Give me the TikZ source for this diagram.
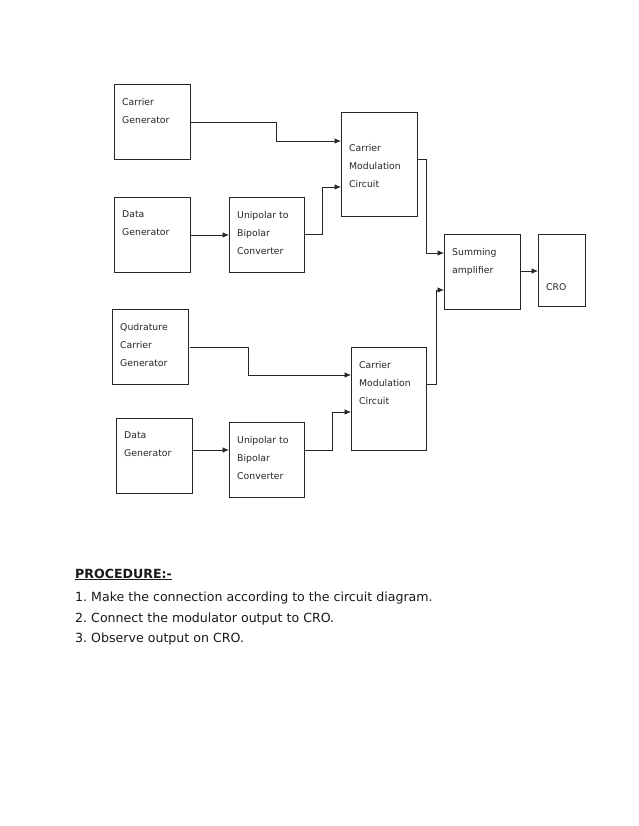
\documentclass[tikz,border=0pt]{standalone}
\usepackage{fontspec}
\setmainfont{DejaVu Sans}
\usetikzlibrary{arrows.meta}
\frenchspacing
\begin{document}
\begin{tikzpicture}[x=1pt,y=-1pt,
  box/.style={draw=black!85, line width=0.8pt, minimum width=#1, anchor=north west, inner sep=0pt, outer sep=0pt},
  lbl/.style={anchor=north west, inner sep=0pt, align=left, font=\fontsize{9.3}{18}\selectfont, text=black!85},
  wire/.style={draw=black!85, line width=0.8pt},
  arr/.style={wire, -{Latex[length=6.5pt,width=5.5pt]}},
  proc/.style={anchor=base west, inner sep=0pt, font=\fontsize{12.6}{16}\selectfont, text=black!90}]
\useasboundingbox[fill=white] (0,0) rectangle (638,826);

% boxes
\node[box=76, minimum height=75] (cg) at (114,84) {};
\node[box=76, minimum height=75] (dg1) at (114,197) {};
\node[box=75, minimum height=75] (uc1) at (229,197) {};
\node[box=76, minimum height=104] (cm1) at (341,112) {};
\node[box=76, minimum height=75] (sa) at (444,234) {};
\node[box=47, minimum height=72] (cro) at (538,234) {};
\node[box=76, minimum height=75] (qg) at (112,309) {};
\node[box=76, minimum height=75] (dg2) at (116,418) {};
\node[box=75, minimum height=75] (uc2) at (229,422) {};
\node[box=75, minimum height=103] (cm2) at (351,347) {};

% labels
\node[lbl] (cgt) at (122,98) {Carrier\\Generator};
\node[lbl] (dg1t) at (122,211) {Data\\Generator};
\node[lbl] (uc1t) at (237,211) {Unipolar to\\Bipolar\\Converter};
\node[lbl] (cm1t) at (349,144) {Carrier\\Modulation\\Circuit};
\node[lbl] (sat) at (452,248) {Summing\\amplifier};
\node[lbl] (crot) at (546,283) {CRO};
\node[lbl] (qgt) at (120,323) {Qudrature\\Carrier\\Generator};
\node[lbl] (dg2t) at (124,432) {Data\\Generator};
\node[lbl] (uc2t) at (237,436) {Unipolar to\\Bipolar\\Converter};
\node[lbl] (cm2t) at (359,361) {Carrier\\Modulation\\Circuit};

% connectors
\coordinate (a1) at (191,122);
\draw[arr] (a1) -| (276,141) -- (cm1.west |- 0,141);
\draw[arr] (dg1.east |- 0,235) ++(1,0) -- (uc1.west |- 0,235);
\draw[arr] (uc1.east |- 0,234) -| (322,187) -- (cm1.west |- 0,187);
\draw[arr] (cm1.east |- 0,159) -| (426,253) -- (sa.west |- 0,253);
\draw[arr] (cm2.east |- 0,384) -| (436,290) -- (sa.west |- 0,290);
\draw[arr] (sa.east |- 0,271) -- (cro.west |- 0,271);
\coordinate (a2) at (190,347);
\draw[arr] (a2) -| (248,375) -- (cm2.west |- 0,375);
\draw[arr] (dg2.east |- 0,450) -- (uc2.west |- 0,450);
\draw[arr] (uc2.east |- 0,450) -| (332,412) -- (cm2.west |- 0,412);

% procedure
\node[proc, font=\fontsize{12.6}{16}\selectfont\bfseries] (ph) at (75,578) {\underline{PROCEDURE:-}};
\node[proc] (p1) at (75,601) {1. Make the connection according to the circuit diagram.};
\node[proc] (p2) at (75,622) {2. Connect the modulator output to CRO.};
\node[proc] (p3) at (75,642) {3. Observe output on CRO.};
\end{tikzpicture}
\end{document}
